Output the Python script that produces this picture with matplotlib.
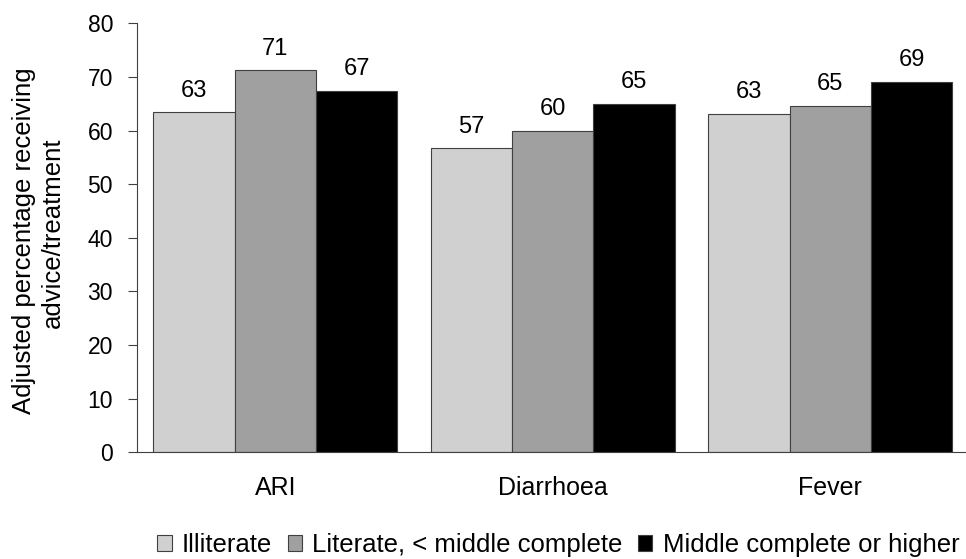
import numpy as np
import matplotlib.pyplot as plt
from matplotlib.patches import Patch

plt.rcParams['font.family'] = ['Liberation Sans', 'DejaVu Sans']

# adjusted percentages by illness and mother's education
illnesses = ["ARI", "Diarrhoea", "Fever"]
groups = ["Illiterate", "Literate, < middle complete", "Middle complete or higher"]
illiterate = [63.4, 56.7, 63.1]
literate_low = [71.2, 60.0, 64.6]
middle_plus = [67.4, 65.0, 69.1]
colors = ["#d0d0d0", "#a0a0a0", "#000000"]

W, H = 966, 559
fig = plt.figure(figsize=(W / 100, H / 100), dpi=100)
ax = fig.add_axes([0.1415, 0.1909, 0.8615, 0.7674])

x = np.arange(len(illnesses))
w = 0.293
for i, (vals, c) in enumerate(zip([illiterate, literate_low, middle_plus], colors)):
    bars = ax.bar(x + (i - 1) * w, vals, width=w, color=c,
                  edgecolor="#404040", linewidth=0.8, label=groups[i])
    for b, v in zip(bars, vals):
        ax.text(b.get_x() + b.get_width() / 2, v + 2.9, f"{v:.0f}",
                ha="center", va="baseline", fontsize=17)

ax.set_xlim(-0.5, 2.5)
ax.set_ylim(0, 80)
ax.set_yticks(range(0, 81, 10))
ax.set_xticks(x)
ax.set_xticklabels(illnesses)
ax.tick_params(axis="x", length=0, pad=17, labelsize=18)
ax.tick_params(axis="y", length=6.5, width=0.8, labelsize=16.5, pad=10.5,
               color="#404040")
for s in ["top", "right"]:
    ax.spines[s].set_visible(False)
ax.spines["left"].set_color("#404040")
ax.spines["bottom"].set_color("#404040")

# two-line y axis title, each line placed on its own
fig.text(24 / W, 1 - 241 / H, "Adjusted percentage receiving", rotation=90,
         ha="center", va="center", fontsize=18.5)
fig.text(53 / W, 1 - 233 / H, "advice/treatment", rotation=90,
         ha="center", va="center", fontsize=18.5)

handles = [Patch(facecolor=c, edgecolor="#404040", linewidth=0.8) for c in colors]
fig.legend(handles, groups, loc="center", bbox_to_anchor=(0.578, 1 - 545 / H),
           ncol=3, frameon=False, fontsize=18.5, handlelength=0.56, handleheight=0.56,
           handletextpad=0.4, columnspacing=0.6, borderpad=0, borderaxespad=0)

fig.savefig("out.png", dpi=100)
